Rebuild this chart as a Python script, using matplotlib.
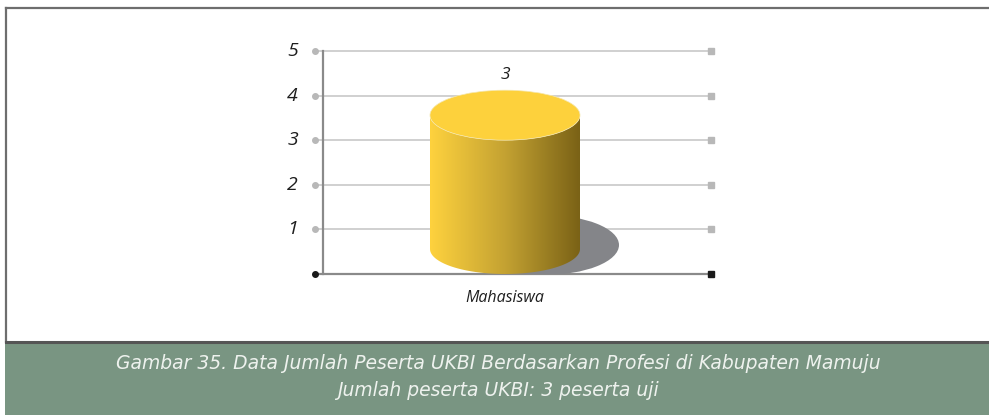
import numpy as np
import matplotlib
matplotlib.use("Agg")
import matplotlib.pyplot as plt
from matplotlib.patches import Ellipse, Rectangle, Polygon

categories = ["Mahasiswa"]
values = [3]
y_ticks = [1, 2, 3, 4, 5]
caption_lines = ["Gambar 35. Data Jumlah Peserta UKBI Berdasarkan Profesi di Kabupaten Mamuju",
                 "Jumlah peserta UKBI: 3 peserta uji"]

W, H = 989, 415
fig = plt.figure(figsize=(W / 100, H / 100), dpi=100)
fig.patch.set_facecolor("white")

def fx(px):
    return px / W

def fy(py):
    return 1 - py / H

# background frame & caption band
bg = fig.add_axes([0, 0, 1, 1])
bg.set_xlim(0, W)
bg.set_ylim(H, 0)
bg.axis("off")
bg.add_patch(Rectangle((5, 342), W - 5, H - 342, facecolor="#799582", edgecolor="none"))
bg.plot([5.5, 5.5], [8.5, 342], color="#6e6e6e", lw=1.6)
bg.plot([5.5, W], [8.5, 8.5], color="#6e6e6e", lw=1.6)
bg.plot([5.5, W], [342, 342], color="#555555", lw=2.2)
cap_font = ["Liberation Sans Narrow", "DejaVu Sans"]
bg.text(498, 363, caption_lines[0], ha="center", va="center", color="#eef2ee",
        fontsize=13.5, style="italic", family=cap_font)
bg.text(498, 390, caption_lines[1], ha="center", va="center", color="#eef2ee",
        fontsize=13.5, style="italic", family=cap_font)

# chart axes
px_per_x = 200.0
cx_px = 505
left_px, right_px = 315, 711
top_px, bot_px = 51, 274
ax = fig.add_axes([fx(left_px), fy(bot_px), fx(right_px - left_px), (bot_px - top_px) / H])
xl = ((left_px - cx_px) / px_per_x, (right_px - cx_px) / px_per_x)
ax.set_xlim(*xl)
ax.set_ylim(0, 5)
ax.axis("off")
px_per_y = (bot_px - top_px) / 5.0

# gridlines
for t in y_ticks:
    ax.plot(xl, [t, t], color="#c8c8c8", lw=1.2, zorder=1, solid_capstyle="butt", clip_on=False)
    ax.plot([xl[0]], [t], "o", color="#b8b8b8", ms=4, zorder=2, clip_on=False)
    ax.plot([xl[1]], [t], "s", color="#b8b8b8", ms=4.5, zorder=2, clip_on=False)
    ax.text(xl[0] - 17 / px_per_x, t, str(t), ha="right", va="center", fontsize=14,
            style="italic", color="#1e1e1e", family="Open Sans")
# baseline and y axis
yaxis_x = (323 - cx_px) / px_per_x
ax.plot([yaxis_x, yaxis_x], [0, 5], color="#8a8a8a", lw=1.6, zorder=3, clip_on=False)
ax.plot(xl, [0, 0], color="#8a8a8a", lw=1.6, zorder=3, clip_on=False)
ax.plot([xl[0]], [0], "o", color="#1a1a1a", ms=4, zorder=4, clip_on=False)
ax.plot([xl[1]], [0], "s", color="#1a1a1a", ms=5, zorder=4, clip_on=False)

# cylinders
hw = 75 / px_per_x
eh = 25 / px_per_y  # half height of ellipse in y units
for i, (cat, v) in enumerate(zip(categories, values)):
    cx = i * 1.0
    # shadow
    sh = Ellipse((cx + 39 / px_per_x, 29 / px_per_y), 150 / px_per_x, 60 / px_per_y,
                 facecolor="#848589", edgecolor="none", zorder=5)
    ax.add_patch(sh)
    yb = eh
    yt = v + eh
    th = np.linspace(np.pi, 2 * np.pi, 80)
    bottom_arc = np.column_stack([cx + hw * np.cos(th), yb + eh * np.sin(th)])
    top_arc = np.column_stack([cx + hw * np.cos(th[::-1]), yt + eh * np.sin(th[::-1])])
    verts = np.vstack([bottom_arc, top_arc])
    body = Polygon(verts, closed=True, facecolor="none", edgecolor="none")
    ax.add_patch(body)
    grad = np.linspace(0, 1, 256)
    c0 = np.array([254, 210, 62]) / 255
    c1 = np.array([196, 162, 50]) / 255
    c2 = np.array([122, 98, 22]) / 255
    cols = np.where(grad[:, None] < 0.5,
                    c0 + (c1 - c0) * (grad[:, None] / 0.5),
                    c1 + (c2 - c1) * ((grad[:, None] - 0.5) / 0.5))
    img = ax.imshow(cols[None, :, :], extent=[cx - hw, cx + hw, yb - eh, yt + eh],
                    aspect="auto", zorder=6, interpolation="bilinear")
    img.set_clip_path(body)
    top = Ellipse((cx, yt), 2 * hw, 2 * eh, facecolor="#fdd13c", edgecolor="#f5e7ad",
                  lw=0.5, zorder=7)
    ax.add_patch(top)
    ax.text(cx, yt + eh + 15 / px_per_y, str(v), ha="center", va="center", fontsize=12.5,
            style="italic", color="#1e1e1e", family="Open Sans")
    ax.text(cx, -24 / px_per_y, cat, ha="center", va="center", fontsize=11.5,
            style="italic", color="#1e1e1e", family="Open Sans", clip_on=False)

ax.set_xlim(*xl)
ax.set_ylim(0, 5)
fig.savefig("out.png", dpi=100)
